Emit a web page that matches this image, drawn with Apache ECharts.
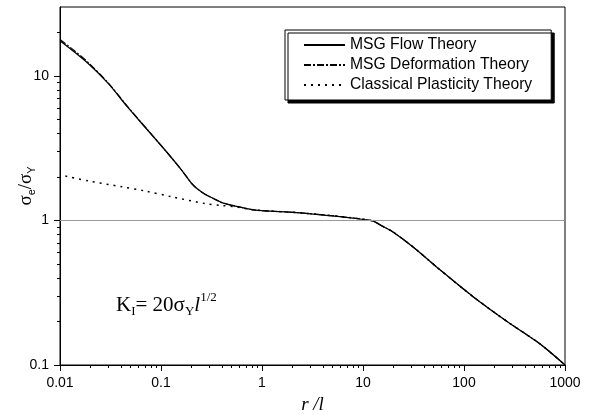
<!DOCTYPE html>
<html>
<head>
<meta charset="utf-8">
<script src="https://cdn.jsdelivr.net/npm/echarts@6/dist/echarts.min.js"></script>
<style>
  html, body { margin: 0; padding: 0; background: #fff; }
  #chart { width: 594px; height: 415px; }
</style>
</head>
<body>
<div id="chart"></div>
<script>
// r/l and sigma_e/sigma_Y
var flowR = [0.01, 0.019, 0.03, 0.047, 0.074, 0.11, 0.16, 0.2, 0.23, 0.273, 0.33, 0.4, 0.582, 0.853, 2.38, 11.9, 15.9, 19.8, 31.3, 57.8, 123, 267, 565, 1000]
var flowS = [17.5, 12.2, 8.88, 6.06, 4.21, 3.06, 2.23, 1.81, 1.65, 1.52, 1.42, 1.33, 1.245, 1.18, 1.13, 1.0, 0.906, 0.833, 0.656, 0.456, 0.297, 0.2, 0.14, 0.1]

var deformR = [0.01, 0.014, 0.019, 0.03, 0.047, 0.074, 0.11, 0.16, 0.2, 0.23, 0.273, 0.33, 0.4, 0.582, 0.853, 2.38, 11.9, 15.9, 19.8, 31.3, 57.8, 123, 267, 565, 1000]
var deformS = [17.9, 14.9, 12.4, 8.95, 6.1, 4.22, 3.06, 2.23, 1.81, 1.65, 1.52, 1.42, 1.33, 1.245, 1.18, 1.13, 1.0, 0.906, 0.833, 0.656, 0.456, 0.297, 0.2, 0.14, 0.1]

var classicR = [0.0113, 0.019, 0.041, 0.0694, 0.127, 0.273, 0.4, 0.582, 0.853, 2.38, 11.9, 15.9, 19.8, 31.3, 57.8, 123, 267, 565, 1000]
var classicS = [2.03, 1.88, 1.71, 1.60, 1.46, 1.31, 1.27, 1.235, 1.18, 1.13, 1.0, 0.906, 0.833, 0.656, 0.456, 0.297, 0.2, 0.14, 0.1]

var xMajor = [0.01, 0.1, 1, 10, 100, 1000]
var yMajor = [0.1, 1, 10]
var decadeSteps = [2, 3, 4, 5, 6, 7, 8, 9]

var legendNames = ['MSG Flow Theory', 'MSG Deformation Theory', 'Classical Plasticity Theory']

var lg = function (v) { return Math.log10(v) }
var pairs = function (xs, ys) {
  return xs.map(function (x, i) { return [lg(x), lg(ys[i])] })
}
var minorOf = function (majors) {
  var out = []
  majors.forEach(function (m) {
    decadeSteps.forEach(function (k) { out.push(m * k) })
  })
  return out
}
var fmt = function (v) { return String(+Math.pow(10, v).toPrecision(3)) }

var myChart = echarts.init(document.getElementById('chart'))
var sans = 'Liberation Sans, Arial, sans-serif'
var serif = 'Liberation Serif, Times New Roman, serif'

var xMinor = minorOf(xMajor).filter(function (v) { return v < 1000 })
var yMinor = minorOf([0.1, 1, 10]).filter(function (v) { return v <= 20 })

var option = {
  animation: false,
  backgroundColor: '#fff',
  grid: {
    left: 60, right: 29, top: 7, bottom: 50,
    show: true, borderColor: '#000', borderWidth: 1,
    containLabel: false,
    outerBoundsMode: 'none'
  },
  legend: {
    data: legendNames,
    orient: 'vertical',
    left: 285, top: 30,
    padding: [7, 19, 7, 18],
    itemWidth: 41, itemHeight: 14, itemGap: 4,
    backgroundColor: '#fff',
    borderColor: '#000', borderWidth: 1,
    shadowColor: '#000', shadowBlur: 0, shadowOffsetX: 3, shadowOffsetY: 3,
    itemStyle: { color: 'transparent', opacity: 0, borderWidth: 0 },
    textStyle: { color: '#000', fontSize: 15.7, fontFamily: sans }
  },
  xAxis: [
    {
      type: 'value', min: -2, max: 3, position: 'bottom',
      name: 'r /l', nameLocation: 'middle', nameGap: 30, nameMoveOverlap: false,
      nameTextStyle: { color: '#000', fontSize: 19, fontStyle: 'italic', fontFamily: serif },
      axisLine: { onZero: false, lineStyle: { color: '#000', width: 1 } },
      axisTick: { inside: false, length: 6, customValues: xMajor.map(lg), lineStyle: { color: '#000' } },
      axisLabel: { customValues: xMajor.map(lg), formatter: fmt, margin: 11, color: '#000', fontSize: 14, fontFamily: sans },
      splitLine: { show: false }
    },
    {
      type: 'value', min: -2, max: 3, position: 'bottom', offset: 0,
      axisLine: { show: false, onZero: false },
      axisTick: { inside: false, length: 3, customValues: xMinor.map(lg), lineStyle: { color: '#000' } },
      axisLabel: { show: false },
      splitLine: { show: false }
    }
  ],
  yAxis: [
    {
      type: 'value', min: -1, max: lg(30), position: 'left',
      name: '{s|σ}{sub|e}{s|/σ}{sub|Y}', nameLocation: 'middle', nameGap: 22, nameMoveOverlap: false,
      nameTextStyle: {
        color: '#000',
        rich: {
          s: { fontSize: 19, fontFamily: serif, lineHeight: 24, color: '#000' },
          sub: { fontSize: 11, fontFamily: sans, lineHeight: 12, padding: [12, 0, 0, 0], color: '#000' }
        }
      },
      axisLine: { onZero: false, lineStyle: { color: '#000', width: 1 } },
      axisTick: { inside: false, length: 6, customValues: yMajor.map(lg), lineStyle: { color: '#000' } },
      axisLabel: { customValues: yMajor.map(lg), formatter: fmt, margin: 11, color: '#000', fontSize: 14, fontFamily: sans },
      splitLine: { show: false }
    },
    {
      type: 'value', min: -1, max: lg(30), position: 'left', offset: 0,
      axisLine: { show: false, onZero: false },
      axisTick: { inside: false, length: 3, customValues: yMinor.map(lg), lineStyle: { color: '#000' } },
      axisLabel: { show: false },
      splitLine: { show: false }
    }
  ],
  graphic: [
    {
      type: 'text', left: 116, top: 291, silent: true,
      style: {
        text: '{n|K}{sub|I}{n|= 20σ}{sub|Y}{it|l}{sup|1/2}',
        rich: {
          n: { fontSize: 21, fontFamily: serif, lineHeight: 28, fill: '#000' },
          it: { fontSize: 21, fontFamily: serif, fontStyle: 'italic', lineHeight: 28, fill: '#000' },
          sub: { fontSize: 13, fontFamily: serif, lineHeight: 15, padding: [13, 0, 0, 0], fill: '#000' },
          sup: { fontSize: 13, fontFamily: serif, lineHeight: 13, padding: [0, 0, 15, 0], fill: '#000' }
        }
      }
    }
  ],
  series: [
    {
      name: 'Classical Plasticity Theory', type: 'line',
      xAxisIndex: 0, yAxisIndex: 0,
      symbol: 'none', smooth: 0.3,
      lineStyle: { color: '#000', width: 1.5, type: [2, 5] },
      itemStyle: { color: '#000' },
      data: pairs(classicR, classicS)
    },
    {
      name: 'MSG Deformation Theory', type: 'line',
      xAxisIndex: 0, yAxisIndex: 0,
      symbol: 'none', smooth: 0.3,
      lineStyle: { color: '#000', width: 1.2, type: [7, 2, 2, 2] },
      itemStyle: { color: '#000' },
      data: pairs(deformR, deformS)
    },
    {
      name: 'MSG Flow Theory', type: 'line',
      xAxisIndex: 0, yAxisIndex: 0,
      symbol: 'none', smooth: 0.3,
      lineStyle: { color: '#000', width: 1.3 },
      itemStyle: { color: '#000' },
      markLine: {
        silent: true, symbol: 'none', label: { show: false },
        lineStyle: { color: '#999', width: 1, type: 'solid' },
        data: [{ yAxis: 0 }]
      },
      data: pairs(flowR, flowS)
    }
  ]
}
myChart.setOption(option)
</script>
</body>
</html>
